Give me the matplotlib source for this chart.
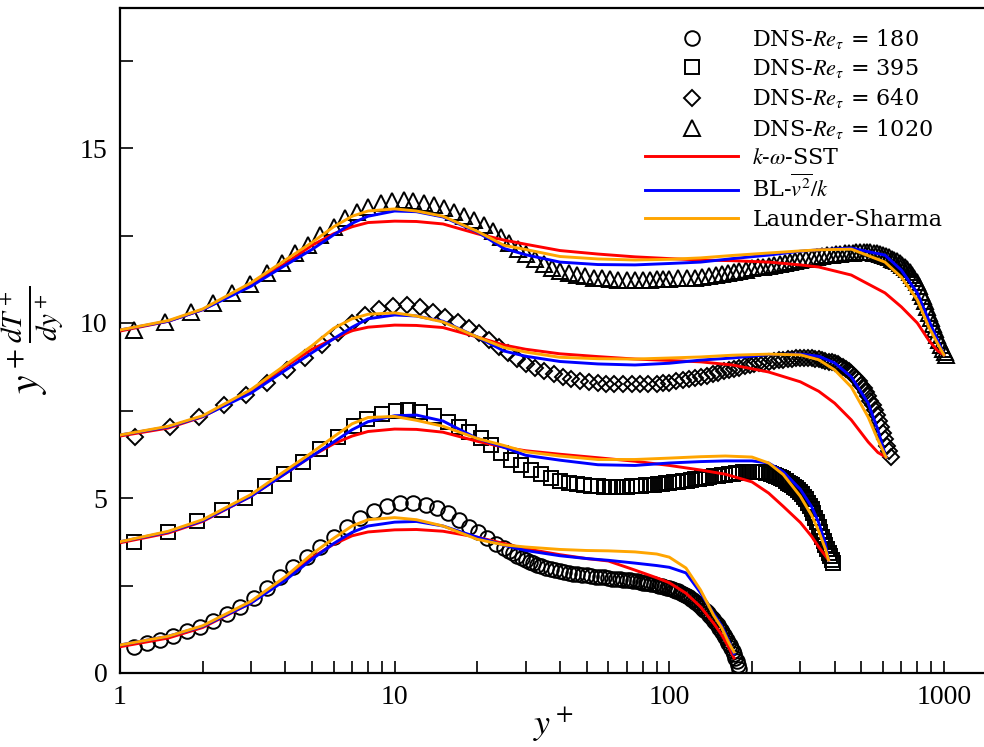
import matplotlib
matplotlib.use("Agg")
import matplotlib.pyplot as plt
from matplotlib.ticker import FixedLocator, NullFormatter, LogLocator
from matplotlib.font_manager import FontProperties

plt.rcParams['mathtext.fontset'] = 'stix'
plt.rcParams['font.family'] = ['Liberation Serif', 'DejaVu Serif']

# ---------------- DNS data (offset +3 per Re) ----------------
yp180 = [1.12, 1.25, 1.40, 1.56, 1.75, 1.96, 2.19, 2.45, 2.74, 3.07,
         3.44, 3.84, 4.28, 4.80, 5.37, 6.0, 6.7, 7.5, 8.4, 9.4,
         10.5, 11.7, 13.0, 14.3, 15.7, 17.1, 18.6, 20.1, 21.7, 23.3,
         25, 26, 27, 28, 29, 30, 31, 32, 33, 34,
         35.5, 37, 38.5, 40, 41.5, 43, 44.5, 46, 48, 50,
         52, 54, 56, 58, 60, 62, 64, 66, 68, 70,
         72, 74, 76, 78, 80, 82, 84, 86, 88, 90,
         92, 94, 96, 98, 100, 102, 104, 106, 108, 110,
         112, 114, 116, 118, 120, 122, 124, 126, 128, 130,
         132, 134, 136, 138, 140, 142, 144, 146, 148, 150,
         152, 154, 156, 158, 160, 162, 164, 166, 168, 170,
         172, 174, 176, 178, 180]
dns180 = [0.75, 0.85, 0.95, 1.07, 1.19, 1.32, 1.50, 1.70, 1.90, 2.15,
          2.44, 2.73, 3.02, 3.31, 3.60, 3.90, 4.17, 4.44, 4.64, 4.78,
          4.85, 4.86, 4.80, 4.72, 4.58, 4.38, 4.18, 4.02, 3.86, 3.70,
          3.56, 3.49, 3.42, 3.35, 3.29, 3.23, 3.18, 3.13, 3.09, 3.05,
          3.01, 2.97, 2.94, 2.91, 2.89, 2.86, 2.84, 2.83, 2.81, 2.79,
          2.77, 2.75, 2.74, 2.73, 2.71, 2.70, 2.69, 2.68, 2.67, 2.66,
          2.65, 2.63, 2.62, 2.60, 2.58, 2.57, 2.56, 2.54, 2.53, 2.51,
          2.50, 2.48, 2.46, 2.44, 2.42, 2.40, 2.38, 2.35, 2.33, 2.30,
          2.27, 2.23, 2.20, 2.16, 2.12, 2.08, 2.04, 2.00, 1.95, 1.91,
          1.86, 1.81, 1.76, 1.71, 1.65, 1.60, 1.54, 1.48, 1.42, 1.36,
          1.30, 1.23, 1.17, 1.10, 1.03, 0.95, 0.87, 0.79, 0.71, 0.62,
          0.53, 0.43, 0.33, 0.22, 0.12]

yp395 = [1.12, 1.50, 1.90, 2.35, 2.86, 3.38, 3.97, 4.65, 5.37, 6.20,
         7.10, 7.95, 9.0, 10.1, 11.2, 12.4, 13.9, 15.6, 17.1, 18.6,
         20.6, 22.5, 24.4, 26.5, 28.8, 31.3, 34.0, 37.0, 40, 43,
         46, 49, 52, 55, 58, 61, 64, 67, 70, 73,
         76, 79, 82, 85, 88, 91, 94, 97, 100, 104,
         108, 112, 116, 120, 124, 128, 132, 136, 140, 145,
         150, 155, 160, 165, 170, 175, 180, 185, 190, 195,
         200, 205, 210, 215, 220, 225, 230, 235, 240, 245,
         250, 255, 260, 265, 270, 275, 280, 285, 290, 295,
         300, 305, 310, 315, 320, 325, 330, 335, 340, 345,
         350, 355, 360, 365, 370, 375, 380, 385, 390, 395]
dns395 = [3.74, 4.03, 4.34, 4.66, 5.00, 5.34, 5.69, 6.03, 6.40, 6.74,
          7.06, 7.26, 7.40, 7.49, 7.51, 7.46, 7.33, 7.17, 7.03, 6.89,
          6.71, 6.51, 6.29, 6.09, 5.94, 5.80, 5.69, 5.58, 5.50, 5.44,
          5.40, 5.37, 5.35, 5.33, 5.32, 5.31, 5.31, 5.31, 5.32, 5.33,
          5.34, 5.35, 5.36, 5.37, 5.38, 5.40, 5.41, 5.42, 5.43, 5.45,
          5.47, 5.48, 5.50, 5.52, 5.54, 5.55, 5.57, 5.58, 5.60, 5.62,
          5.63, 5.65, 5.67, 5.69, 5.70, 5.71, 5.72, 5.73, 5.74, 5.74,
          5.74, 5.74, 5.74, 5.73, 5.73, 5.72, 5.71, 5.69, 5.67, 5.64,
          5.60, 5.57, 5.53, 5.48, 5.44, 5.40, 5.36, 5.32, 5.28, 5.23,
          5.18, 5.11, 5.04, 4.96, 4.87, 4.78, 4.68, 4.56, 4.44, 4.32,
          4.18, 4.04, 3.90, 3.78, 3.66, 3.55, 3.44, 3.33, 3.23, 3.15]

yp640 = [1.13, 1.52, 1.94, 2.40, 2.88, 3.44, 4.06, 4.73, 5.46, 6.20,
         7.0, 7.8, 8.8, 9.9, 11.1, 12.4, 13.8, 15.3, 17.0, 18.6,
         20.3, 22.1, 24.0, 25.8, 27.8, 30, 32.5, 35, 38, 41,
         44, 47.5, 51, 55, 59, 63, 68, 73, 78, 84,
         90, 95, 100, 106, 112, 118, 124, 130, 137, 144,
         151, 158, 165, 172, 180, 188, 196, 204, 212, 220,
         230, 240, 250, 260, 270, 280, 290, 300, 310, 320,
         330, 340, 350, 360, 370, 380, 390, 400, 410, 420,
         430, 440, 450, 460, 470, 480, 490, 500, 510, 520,
         530, 540, 550, 560, 570, 580, 590, 600, 610, 620,
         630, 640]
dns640 = [6.74, 7.03, 7.31, 7.66, 7.94, 8.29, 8.66, 9.00, 9.37, 9.71,
          10.00, 10.23, 10.40, 10.49, 10.51, 10.46, 10.31, 10.17, 10.03, 9.86,
          9.71, 9.51, 9.31, 9.14, 8.97, 8.82, 8.72, 8.63, 8.53, 8.46,
          8.40, 8.34, 8.31, 8.29, 8.27, 8.26, 8.26, 8.26, 8.26, 8.26,
          8.27, 8.28, 8.30, 8.33, 8.36, 8.40, 8.43, 8.46, 8.50, 8.54,
          8.58, 8.62, 8.65, 8.69, 8.72, 8.76, 8.79, 8.82, 8.85, 8.87,
          8.89, 8.91, 8.93, 8.95, 8.97, 8.98, 8.99, 9.00, 9.00, 9.00,
          8.99, 8.97, 8.96, 8.94, 8.92, 8.90, 8.88, 8.85, 8.82, 8.77,
          8.73, 8.68, 8.63, 8.57, 8.50, 8.42, 8.33, 8.23, 8.13, 8.02,
          7.91, 7.78, 7.65, 7.51, 7.36, 7.20, 7.03, 6.86, 6.69, 6.50,
          6.33, 6.17]

yp1020 = [1.12, 1.46, 1.81, 2.18, 2.56, 2.98, 3.44, 3.90, 4.35, 4.85,
          5.37, 6.0, 6.6, 7.3, 8.0, 8.9, 9.8, 10.8, 11.7, 12.8,
          13.9, 15.1, 16.4, 17.9, 19.4, 21.1, 22.8, 24.4, 26.1, 28.1,
          30.2, 32.5, 35, 37.5, 40, 43, 46, 49.5, 53, 57,
          61, 65, 70, 75, 80, 85, 90, 95, 100, 108,
          116, 124, 132, 140, 148, 156, 164, 172, 180, 190,
          200, 210, 220, 230, 240, 252, 264, 276, 288, 300,
          315, 330, 345, 360, 375, 390, 405, 420, 435, 450,
          465, 480, 495, 510, 525, 540, 555, 570, 585, 600,
          615, 630, 645, 660, 675, 690, 705, 720, 735, 750,
          765, 780, 795, 810, 825, 840, 855, 870, 885, 900,
          915, 930, 945, 960, 975, 990, 1005, 1020]
dns1020 = [9.80, 10.03, 10.31, 10.57, 10.86, 11.11, 11.43, 11.71, 12.00, 12.23,
           12.51, 12.74, 13.00, 13.17, 13.31, 13.43, 13.49, 13.51, 13.49, 13.43,
           13.37, 13.29, 13.17, 13.06, 12.94, 12.80, 12.63, 12.45, 12.28, 12.12,
           11.97, 11.82, 11.68, 11.57, 11.50, 11.43, 11.37, 11.33, 11.30, 11.28,
           11.26, 11.24, 11.23, 11.23, 11.24, 11.24, 11.25, 11.25, 11.26, 11.28,
           11.29, 11.30, 11.32, 11.35, 11.37, 11.40, 11.43, 11.46, 11.49, 11.52,
           11.56, 11.59, 11.61, 11.63, 11.66, 11.69, 11.72, 11.75, 11.77, 11.80,
           11.83, 11.86, 11.89, 11.91, 11.93, 11.95, 11.96, 11.98, 11.99, 12.00,
           12.01, 12.02, 12.03, 12.03, 12.03, 12.02, 12.01, 11.99, 11.97, 11.95,
           11.92, 11.88, 11.84, 11.80, 11.76, 11.71, 11.66, 11.60, 11.53, 11.46,
           11.38, 11.28, 11.18, 11.05, 10.90, 10.76, 10.62, 10.46, 10.30, 10.14,
           9.98, 9.82, 9.67, 9.52, 9.38, 9.26, 9.16, 9.08]

# ---------------- RANS model curves ----------------
xm180 = [1, 1.5, 2, 3, 4, 5, 6, 7, 8, 10, 12, 15, 20, 25, 30, 40, 50, 60,
         75, 90, 100, 115, 130, 145, 155, 165, 172]
sst180 = [0.75, 1.0, 1.3, 2.0, 2.72, 3.3, 3.68, 3.92, 4.03, 4.09, 4.1, 4.05, 3.88,
          3.7, 3.55, 3.38, 3.27, 3.2, 2.94, 2.72, 2.58, 2.28, 1.89, 1.42, 1.1, 0.72, 0.43]
bl180 = [0.8, 1.05, 1.33, 2.0, 2.65, 3.25, 3.7, 4.02, 4.2, 4.31, 4.33, 4.2, 3.88,
         3.65, 3.5, 3.35, 3.27, 3.22, 3.14, 3.07, 3.02, 2.86, 2.29, 1.7, 1.35, 0.9, 0.55]
ls180 = [0.8, 1.05, 1.35, 2.05, 2.75, 3.4, 3.85, 4.2, 4.38, 4.44, 4.38, 4.2, 3.82,
         3.66, 3.6, 3.53, 3.5, 3.49, 3.46, 3.4, 3.31, 3.0, 2.37, 1.65, 1.3, 0.85, 0.6]

xm395 = [1, 1.5, 2, 3, 4, 5, 6, 7, 8, 10, 12, 15, 20, 25, 30, 40, 55, 75, 100,
         130, 160, 200, 230, 260, 300, 330, 350, 370, 380]
sst395 = [3.72, 4.0, 4.33, 5.05, 5.7, 6.2, 6.55, 6.77, 6.9, 6.97, 6.96, 6.88, 6.62,
          6.45, 6.35, 6.25, 6.15, 6.05, 5.93, 5.8, 5.68, 5.46, 5.14, 4.76, 4.3,
          3.9, 3.6, 3.35, 3.23]
bl395 = [3.75, 4.03, 4.35, 5.05, 5.7, 6.2, 6.6, 6.95, 7.18, 7.35, 7.37, 7.2, 6.7,
         6.45, 6.22, 6.08, 5.95, 5.93, 6.0, 6.04, 6.06, 6.06, 6.0, 5.75, 5.25,
         4.75, 4.3, 3.7, 3.23]
ls395 = [3.75, 4.05, 4.38, 5.1, 5.78, 6.3, 6.75, 7.12, 7.3, 7.33, 7.22, 7.05, 6.7,
         6.5, 6.32, 6.2, 6.1, 6.1, 6.14, 6.18, 6.2, 6.17, 6.0, 5.67, 5.05,
         4.5, 4.05, 3.55, 3.23]

xm640 = [1, 1.5, 2, 3, 4, 5, 6, 7, 8, 10, 12, 15, 20, 25, 30, 40, 55, 75, 100,
         130, 170, 230, 300, 350, 400, 460, 530, 575, 615]
sst640 = [6.77, 7.0, 7.32, 8.05, 8.75, 9.25, 9.55, 9.78, 9.88, 9.94, 9.93, 9.87, 9.6,
          9.37, 9.25, 9.12, 9.04, 8.97, 8.93, 8.89, 8.8, 8.6, 8.32, 8.05, 7.71,
          7.23, 6.6, 6.3, 6.17]
bl640 = [6.8, 7.03, 7.33, 8.0, 8.65, 9.15, 9.55, 9.88, 10.12, 10.23, 10.2, 10.05, 9.6,
         9.2, 9.05, 8.9, 8.83, 8.8, 8.85, 8.94, 9.0, 9.1, 9.11, 9.05, 8.86,
         8.46, 7.71, 6.94, 6.17]
ls640 = [6.8, 7.05, 7.35, 8.1, 8.8, 9.35, 9.85, 10.12, 10.25, 10.29, 10.2, 10.03, 9.6,
         9.3, 9.17, 9.02, 8.98, 8.97, 9.0, 9.03, 9.08, 9.11, 9.09, 8.95, 8.66,
         8.17, 7.31, 6.66, 6.17]

xm1020 = [1, 1.5, 2, 3, 4, 5, 6, 7, 8, 10, 12, 15, 20, 25, 30, 40, 55, 75, 100,
          130, 170, 230, 300, 350, 460, 610, 700, 800, 880, 950, 1000]
sst1020 = [9.77, 10.05, 10.38, 11.1, 11.7, 12.22, 12.55, 12.75, 12.87, 12.91, 12.9,
           12.83, 12.55, 12.37, 12.25, 12.07, 11.97, 11.89, 11.84, 11.8, 11.78,
           11.74, 11.66, 11.6, 11.37, 10.86, 10.46, 10.0, 9.51, 9.2, 9.09]
bl1020 = [9.8, 10.05, 10.38, 11.05, 11.65, 12.1, 12.52, 12.85, 13.05, 13.2, 13.18,
          13.03, 12.6, 12.13, 11.95, 11.74, 11.67, 11.66, 11.7, 11.74, 11.84,
          11.94, 12.05, 12.09, 12.14, 11.94, 11.51, 10.86, 10.09, 9.5, 9.09]
ls1020 = [9.8, 10.07, 10.4, 11.15, 11.8, 12.3, 12.75, 13.05, 13.2, 13.26, 13.2,
          13.05, 12.62, 12.22, 12.1, 11.9, 11.83, 11.8, 11.82, 11.86, 11.93,
          12.0, 12.06, 12.09, 12.11, 11.74, 11.31, 10.66, 9.89, 9.4, 9.09]

dns_labels = ['DNS-$Re_{\\tau}$ = 180', 'DNS-$Re_{\\tau}$ = 395',
              'DNS-$Re_{\\tau}$ = 640', 'DNS-$Re_{\\tau}$ = 1020']
model_labels = ['$k$-$\\omega$-SST', 'BL-$\\overline{v^2}/k$', 'Launder-Sharma']
model_colors = ['#ff0000', '#0000ff', '#ffa500']
xticks = [1, 10, 100, 1000]
yticks = [0, 5, 10, 15]

# ---------------- figure ----------------
fig = plt.figure(figsize=(9.84, 7.47), dpi=100)
ax = fig.add_axes([120 / 984, 74 / 747, 866 / 984, 665 / 747])

mk = dict(linestyle='none', markerfacecolor='none', markeredgecolor='black',
          markeredgewidth=1.4, zorder=2)
ax.plot(yp180, dns180, marker='o', markersize=10.5, label=dns_labels[0], **mk)
ax.plot(yp395, dns395, marker='s', markersize=10, label=dns_labels[1], **mk)
ax.plot(yp640, dns640, marker='D', markersize=8.5, label=dns_labels[2], **mk)
ax.plot(yp1020, dns1020, marker='^', markersize=11, label=dns_labels[3], **mk)

sets = [(xm180, sst180, bl180, ls180), (xm395, sst395, bl395, ls395),
        (xm640, sst640, bl640, ls640), (xm1020, sst1020, bl1020, ls1020)]
for i, (xm, s, b, l) in enumerate(sets):
    for j, (vals, c) in enumerate(zip((s, b, l), model_colors)):
        ax.plot(xm, vals, color=c, lw=2.1, zorder=3 + j,
                label=model_labels[j] if i == 0 else None)

ax.set_xscale('log')
ax.set_xlim(1, 1423)
ax.set_ylim(0, 19)
ax.xaxis.set_major_locator(FixedLocator(xticks))
ax.set_xticklabels([str(t) for t in xticks])
ax.xaxis.set_minor_locator(LogLocator(base=10, subs=range(2, 10), numticks=20))
ax.xaxis.set_minor_formatter(NullFormatter())
ax.yaxis.set_major_locator(FixedLocator(yticks))
ax.set_yticklabels([str(t) for t in yticks])
ax.yaxis.set_minor_locator(FixedLocator([2.5, 7.5, 12.5, 17.5]))

ax.tick_params(which='both', direction='in', length=9, width=1.2,
               top=False, right=False, labelsize=20)
ax.tick_params(axis='x', pad=9)
ax.tick_params(axis='y', pad=9)
for sp in ax.spines.values():
    sp.set_linewidth(1.6)

ax.set_xlabel('$y^+$', fontsize=26, labelpad=-4)
ax.set_ylabel('$y^+\\frac{dT^+}{dy^+}$', fontsize=30)
ax.yaxis.set_label_coords(-0.062, 0.50)

leg = ax.legend(loc='upper left', bbox_to_anchor=(645 / 984, 1 - 27 / 747),
                bbox_transform=fig.transFigure, frameon=False,
                prop=FontProperties(family='DejaVu Serif', size=16),
                handlelength=4.2, handletextpad=0.63, labelspacing=0.28,
                borderpad=0, borderaxespad=0, numpoints=1)

fig.savefig('out.png', dpi=100)
